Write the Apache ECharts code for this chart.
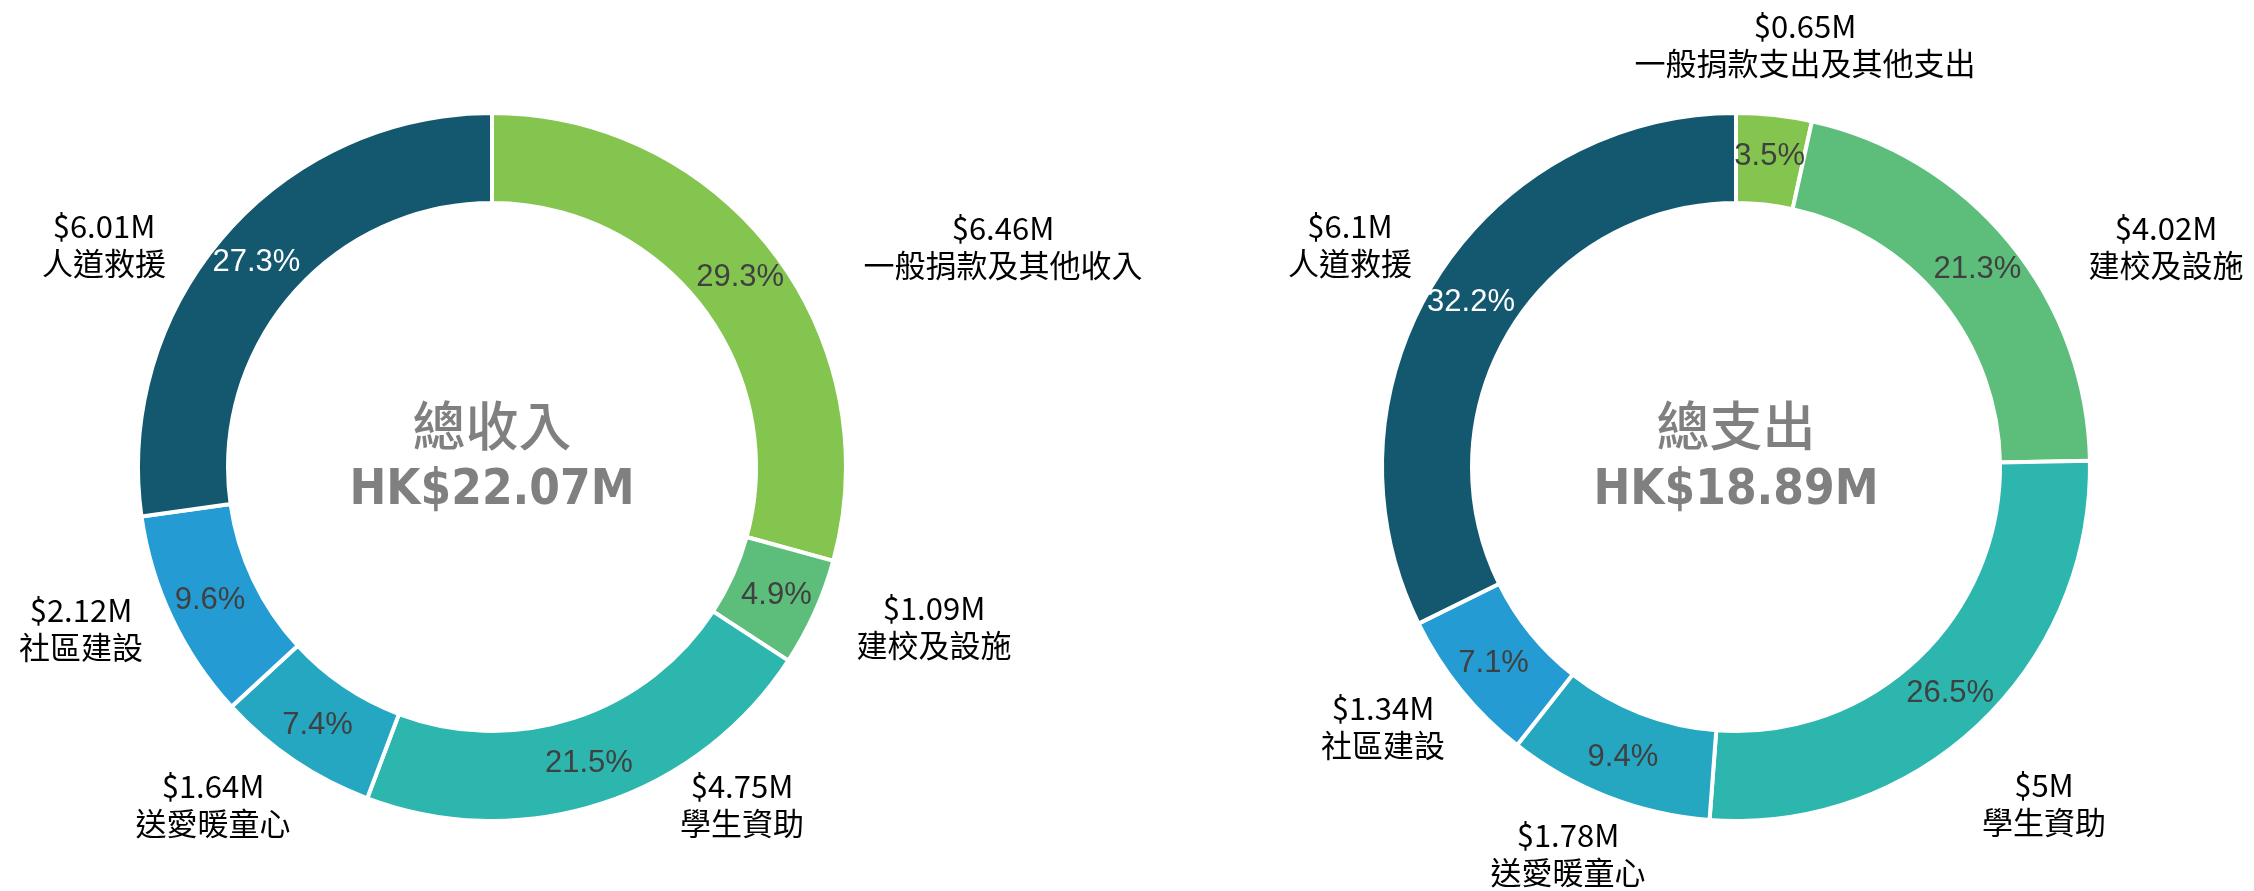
<!DOCTYPE html>
<html>
<head>
<meta charset="utf-8">
<title>總收入 / 總支出</title>
<script src="https://cdn.jsdelivr.net/npm/echarts@6/dist/echarts.min.js"></script>
<style>
  html, body { margin: 0; padding: 0; background: #fff; }
  #main { width: 2254px; height: 891px; }
</style>
</head>
<body>
<div id="main"></div>
<script>
// 數據 (百萬港元)
var incomeNames = ['一般捐款及其他收入', '建校及設施', '學生資助', '送愛暖童心', '社區建設', '人道救援'];
var incomeValues = [6.46, 1.09, 4.75, 1.64, 2.12, 6.01];
var incomePct = [29.3, 4.9, 21.5, 7.4, 9.6, 27.3];

var expenseNames = ['一般捐款支出及其他支出', '建校及設施', '學生資助', '送愛暖童心', '社區建設', '人道救援'];
var expenseValues = [0.65, 4.02, 5, 1.78, 1.34, 6.1];
var expensePct = [3.5, 21.3, 26.5, 9.4, 7.1, 32.2];

var colors = ['#84C550', '#5DBE7B', '#2CB6AE', '#25A7C1', '#249CD3', '#14586F'];

(function () {
  var myChart = echarts.init(document.getElementById('main'));

  var cjk = '"Noto Sans CJK TC", "Noto Sans", sans-serif';
  var radius = [264, 354];

  // 外側標籤位置 (相對圓心)
  var incomeLabelOff = [[511, -220], [442, 160], [250, 338], [-279, 338], [-411, 162], [-388, -222]];
  var expenseLabelOff = [[69, -422], [430, -220], [308, 337], [-168, 387], [-353, 260], [-386, -222]];

  function sum(arr) {
    var s = 0;
    for (var i = 0; i < arr.length; i++) s += arr[i];
    return s;
  }

  function ring(center, names, values, pct) {
    return {
      type: 'pie',
      center: center,
      radius: radius,
      startAngle: 90,
      clockwise: true,
      avoidLabelOverlap: false,
      silent: true,
      itemStyle: { borderColor: '#fff', borderWidth: 4 },
      label: {
        show: true,
        position: 'inside',
        fontFamily: '"Liberation Sans", Arial, sans-serif',
        fontSize: 31,
        formatter: function (p) { return pct[p.dataIndex] + '%'; }
      },
      labelLine: { show: false },
      emphasis: { disabled: true },
      data: names.map(function (n, i) {
        return {
          name: n,
          value: values[i],
          itemStyle: { color: colors[i] },
          label: { color: i === names.length - 1 ? '#ffffff' : '#404040' }
        };
      })
    };
  }

  function outerLabels(center, names, values, offs) {
    return {
      type: 'pie',
      center: center,
      radius: radius,
      startAngle: 90,
      clockwise: true,
      avoidLabelOverlap: false,
      silent: true,
      itemStyle: { color: 'transparent', borderWidth: 0 },
      label: {
        show: true,
        position: 'outside',
        formatter: function (p) { return '{v|$' + values[p.dataIndex] + 'M}\n{n|' + p.name + '}'; },
        rich: {
          v: { fontFamily: cjk, fontSize: 31, color: '#000', lineHeight: 37, align: 'center' },
          n: { fontFamily: cjk, fontSize: 31, color: '#000', lineHeight: 37, align: 'center' }
        }
      },
      labelLine: { show: false },
      labelLayout: function (p) {
        var o = offs[p.dataIndex];
        return { x: center[0] + o[0], y: center[1] + o[1], align: 'center', verticalAlign: 'middle' };
      },
      emphasis: { disabled: true },
      data: names.map(function (n, i) { return { name: n, value: values[i] }; })
    };
  }

  var cIn = [492, 467];
  var cOut = [1736, 467];

  function centerText(c, title, total) {
    return [
      {
        type: 'text', x: c[0], y: c[1] - 41,
        style: {
          text: title, align: 'center', verticalAlign: 'middle',
          font: '500 53px ' + cjk, fill: '#808080'
        }
      },
      {
        type: 'text', x: c[0], y: c[1] + 24,
        style: {
          text: 'HK$' + total.toFixed(2) + 'M', align: 'center', verticalAlign: 'middle',
          font: 'bold 49px "DejaVu Sans Condensed", "DejaVu Sans", sans-serif', fill: '#808080'
        }
      }
    ];
  }

  var option = {
    backgroundColor: '#fff',
    animation: false,
    graphic: centerText(cIn, '總收入', sum(incomeValues)).concat(centerText(cOut, '總支出', sum(expenseValues))),
    series: [
      ring(cIn, incomeNames, incomeValues, incomePct),
      outerLabels(cIn, incomeNames, incomeValues, incomeLabelOff),
      ring(cOut, expenseNames, expenseValues, expensePct),
      outerLabels(cOut, expenseNames, expenseValues, expenseLabelOff)
    ]
  };

  if (option && typeof option === 'object') {
    myChart.setOption(option);
  }
  window.addEventListener('resize', myChart.resize);
})();
</script>
</body>
</html>
